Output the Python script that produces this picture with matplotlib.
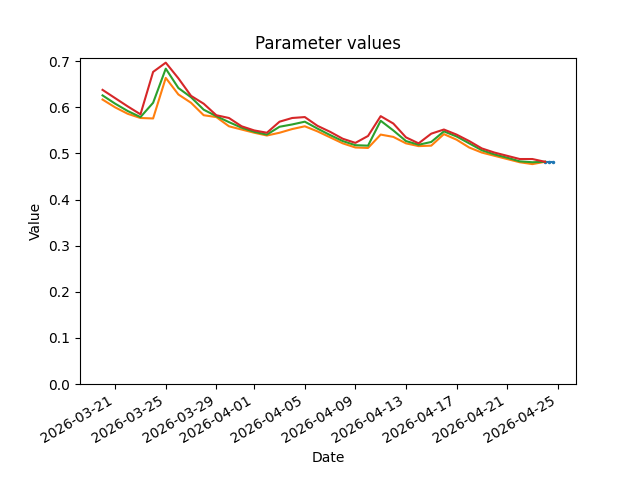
import matplotlib
matplotlib.use("Agg")
import matplotlib.pyplot as plt
import pandas as pd

# daily dates for the three parameter bands
dates = pd.date_range("2026-03-20", "2026-04-24", freq="D")

upper = [0.638, 0.620, 0.602, 0.585, 0.677, 0.697, 0.663, 0.625, 0.608, 0.583,
         0.577, 0.559, 0.550, 0.545, 0.569, 0.577, 0.579, 0.560, 0.547, 0.532,
         0.523, 0.538, 0.581, 0.565, 0.535, 0.522, 0.543, 0.552, 0.541, 0.527,
         0.511, 0.502, 0.495, 0.488, 0.488, 0.482]
middle = [0.626, 0.608, 0.592, 0.579, 0.610, 0.684, 0.642, 0.622, 0.595, 0.581,
          0.568, 0.556, 0.547, 0.541, 0.558, 0.563, 0.569, 0.554, 0.540, 0.527,
          0.518, 0.517, 0.571, 0.550, 0.527, 0.519, 0.525, 0.548, 0.537, 0.522,
          0.507, 0.498, 0.491, 0.483, 0.481, 0.482]
lower = [0.617, 0.600, 0.586, 0.577, 0.576, 0.664, 0.628, 0.610, 0.583, 0.579,
         0.559, 0.552, 0.545, 0.539, 0.545, 0.553, 0.559, 0.548, 0.535, 0.522,
         0.513, 0.512, 0.541, 0.536, 0.522, 0.516, 0.517, 0.542, 0.530, 0.513,
         0.502, 0.495, 0.488, 0.481, 0.477, 0.482]

# short latest series at the end
latest_dates = pd.to_datetime(["2026-04-24 00:00", "2026-04-24 08:00", "2026-04-24 16:00"])
latest = [0.482, 0.482, 0.482]

fig, ax = plt.subplots(figsize=(6.4, 4.8), dpi=100)

ax.plot(latest_dates, latest, color="tab:blue", linestyle="--", marker=".", markersize=3)
ax.plot(dates, lower, color="tab:orange")
ax.plot(dates, middle, color="tab:green")
ax.plot(dates, upper, color="tab:red")

ax.set_ylim(bottom=0)
ax.set_title("Parameter values")
ax.set_xlabel("Date")
ax.set_ylabel("Value")
fig.autofmt_xdate()

fig.savefig("out.png")
